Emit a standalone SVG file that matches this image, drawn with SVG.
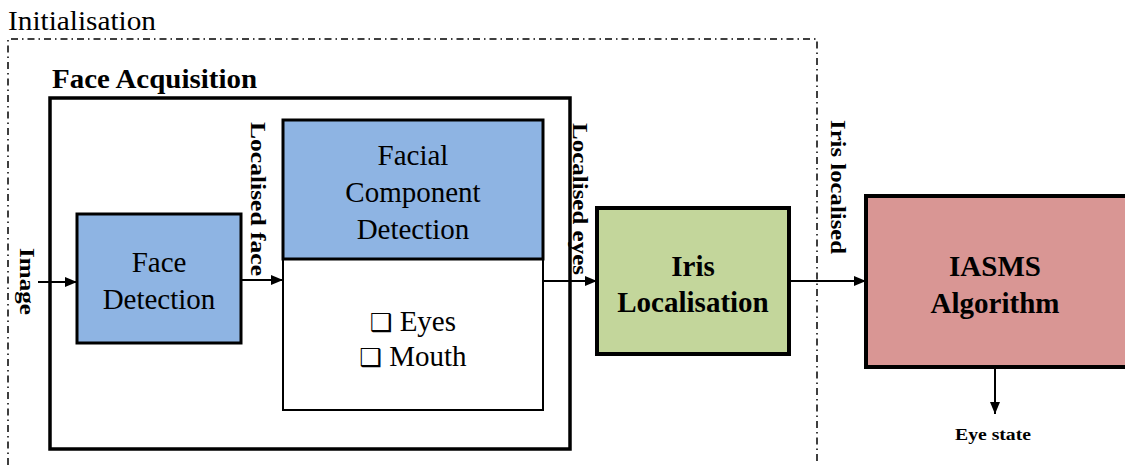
<svg xmlns="http://www.w3.org/2000/svg" width="1125" height="465" viewBox="0 0 1125 465">
<style>
text{font-family:"Liberation Serif","Times New Roman","DejaVu Serif",serif;fill:#000}
.b{font-weight:bold}
.lbl{font-size:29px;text-anchor:middle}
.blbl{font-size:29px;font-weight:bold;text-anchor:middle}
.vt{font-size:22px;font-weight:bold}
.box{stroke:#000;stroke-width:3}
.conn{stroke:#000;stroke-width:2;fill:none;marker-end:url(#ah)}
.chk{font-family:"DejaVu Sans",sans-serif;font-size:25px}
</style>
<defs>
<marker id="ah" markerWidth="12" markerHeight="10" refX="12" refY="5" orient="auto" markerUnits="userSpaceOnUse">
<path d="M0,0 L12,5 L0,10 Z" fill="#000"/>
</marker>
</defs>
<rect width="1125" height="465" fill="#fff"/>
<g id="initialisation">
<text x="8" y="30" font-size="27" textLength="148" lengthAdjust="spacingAndGlyphs">Initialisation</text>
<path d="M8,465 V39 H817 V465" fill="none" stroke="#000" stroke-width="1.5" stroke-dasharray="7,4,1.5,4"/>
</g>
<g id="face-acquisition">
<text class="b" x="52" y="88" font-size="27" textLength="205" lengthAdjust="spacingAndGlyphs">Face Acquisition</text>
<rect x="50" y="98" width="520" height="351" fill="none" stroke="#000" stroke-width="3.5"/>
</g>
<g id="face-detection">
<rect class="box" x="77" y="214" width="164" height="129" fill="#8EB4E3"/>
<text class="lbl" x="159" y="272">Face</text>
<text class="lbl" x="159" y="309">Detection</text>
</g>
<g id="facial-component-detection">
<rect x="283" y="259" width="260" height="151" fill="#fff" stroke="#000" stroke-width="2"/>
<rect class="box" x="283" y="120" width="260" height="139" fill="#8EB4E3"/>
<text class="lbl" x="413" y="165">Facial</text>
<text class="lbl" x="413" y="202">Component</text>
<text class="lbl" x="413" y="239">Detection</text>
<text class="lbl" x="413" y="331"><tspan class="chk">❑</tspan> Eyes</text>
<text class="lbl" x="413" y="366"><tspan class="chk">❑</tspan> Mouth</text>
</g>
<g id="iris-localisation">
<rect x="597" y="208" width="192" height="146" fill="#C3D69B" stroke="#000" stroke-width="4"/>
<text class="blbl" x="693" y="276">Iris</text>
<text class="blbl" x="693" y="312">Localisation</text>
</g>
<g id="iasms-algorithm">
<rect x="866" y="196" width="262" height="171" fill="#D99694" stroke="#000" stroke-width="4"/>
<text class="blbl" x="995" y="276">IASMS</text>
<text class="blbl" x="995" y="313">Algorithm</text>
</g>
<g id="eye-state">
<text class="b" x="955" y="440" font-size="16" textLength="76" lengthAdjust="spacingAndGlyphs">Eye state</text>
</g>
<g id="connectors">
<line class="conn" x1="38" y1="282" x2="77" y2="282"/>
<line class="conn" x1="241" y1="280" x2="283" y2="280"/>
<line class="conn" x1="543" y1="281" x2="597" y2="281"/>
<line class="conn" x1="789" y1="281" x2="866" y2="281"/>
<line class="conn" x1="995" y1="368" x2="995" y2="414" stroke-width="3"/>
</g>
<g id="connector-labels">
<text class="vt" transform="translate(20,248) rotate(90)" textLength="67" lengthAdjust="spacingAndGlyphs">Image</text>
<text class="vt" transform="translate(251,122) rotate(90)" textLength="154" lengthAdjust="spacingAndGlyphs">Localised face</text>
<text class="vt" transform="translate(573,123) rotate(90)" textLength="152" lengthAdjust="spacingAndGlyphs">Localised eyes</text>
<text class="vt" transform="translate(831,120) rotate(90)" textLength="134" lengthAdjust="spacingAndGlyphs">Iris localised</text>
</g>
</svg>
